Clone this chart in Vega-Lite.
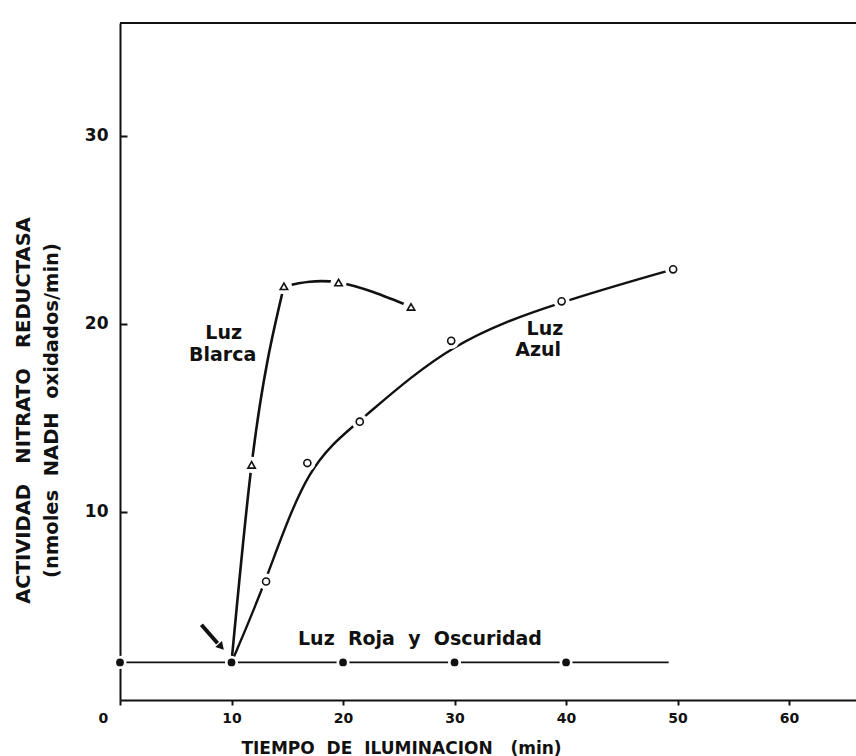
{
  "$schema": "https://vega.github.io/schema/vega-lite/v6.json",
  "width": 736,
  "height": 677,
  "autosize": "none",
  "padding": {"left": 120, "top": 23, "right": 0, "bottom": 56},
  "background": "white",
  "config": {
    "view": {"stroke": null},
    "font": "DejaVu Sans",
    "axis": {
      "domainColor": "#111", "domainWidth": 2,
      "tickColor": "#111", "tickWidth": 2,
      "labelColor": "#111", "labelFont": "DejaVu Sans", "labelFontWeight": "bold",
      "titleColor": "#111", "titleFont": "DejaVu Sans", "titleFontWeight": "bold",
      "grid": false
    }
  },
  "datasets": {
    "dark": [
      {"t": 0, "a": 2}, {"t": 10, "a": 2}, {"t": 20, "a": 2}, {"t": 30, "a": 2}, {"t": 40, "a": 2}
    ],
    "darkline": [
      {"t": 0, "a": 2, "t2": 49.2}
    ],
    "top": [
      {"a": 36}
    ],
    "blanca": [
      {"t": 10, "a": 2}, {"t": 11.8, "a": 12.5}, {"t": 14.7, "a": 22.0}, {"t": 19.6, "a": 22.2}, {"t": 26.1, "a": 20.9}
    ],
    "azul": [
      {"t": 10, "a": 2}, {"t": 13.1, "a": 6.3}, {"t": 16.8, "a": 12.6}, {"t": 21.5, "a": 14.8},
      {"t": 29.7, "a": 19.1}, {"t": 39.6, "a": 21.2}, {"t": 49.6, "a": 22.9}
    ],
    "arrow": [
      {"t": 7.3, "a": 4.0, "t2": 8.75, "a2": 3.02}
    ],
    "arrowhead": [
      {"t": 9.0, "a": 2.88}
    ],
    "labels": [
      {"t": 9.3, "a": 19.5, "txt": "Luz"},
      {"t": 9.2, "a": 18.35, "txt": "Blarca"},
      {"t": 38.1, "a": 19.75, "txt": "Luz"},
      {"t": 37.5, "a": 18.6, "txt": "Azul"},
      {"t": 26.9, "a": 3.25, "txt": "Luz\u00a0 Roja\u00a0 y\u00a0 Oscuridad"}
    ]
  },
  "encoding": {
    "x": {
      "field": "t", "type": "quantitative",
      "scale": {"domain": [0, 66], "nice": false},
      "axis": {
        "values": [0, 10, 20, 30, 40, 50, 60],
        "title": "TIEMPO\u00a0 DE\u00a0 ILUMINACION\u00a0\u00a0 (min)",
        "titleX": 281, "titleY": 53, "titleBaseline": "alphabetic", "titleAlign": "center",
        "titleFontSize": 17,
        "labelFontSize": 14, "labelPadding": 6, "tickSize": 5,
        "labelOffset": {"condition": {"test": "datum.value === 0", "value": -22}, "value": 0}
      }
    },
    "y": {
      "field": "a", "type": "quantitative",
      "scale": {"domain": [0, 36], "nice": false},
      "axis": {
        "values": [10, 20, 30],
        "title": ["ACTIVIDAD\u00a0\u00a0 NITRATO\u00a0\u00a0 REDUCTASA", "(nmoles\u00a0 NADH\u00a0 oxidados/min)"],
        "titleX": -91, "titleY": 387, "titleAngle": 270, "titleBaseline": "alphabetic", "titleAlign": "center",
        "titleLineHeight": 28.5, "titleFontSize": 19.5,
        "labelFontSize": 17, "labelPadding": 19, "tickSize": -7
      }
    }
  },
  "layer": [
    {
      "data": {"name": "blanca"},
      "transform": [{"filter": "datum.t <= 14.7"}],
      "mark": {"type": "line", "interpolate": "monotone", "strokeWidth": 2.6, "color": "#111"}
    },
    {
      "data": {"name": "blanca"},
      "transform": [{"filter": "datum.t >= 14.7"}],
      "mark": {"type": "line", "interpolate": "natural", "strokeWidth": 2.6, "color": "#111"}
    },
    {
      "data": {"name": "top"},
      "mark": {"type": "rule", "strokeWidth": 2.2, "color": "#111"},
      "encoding": {"x": null}
    },
    {
      "data": {"name": "darkline"},
      "mark": {"type": "rule", "strokeWidth": 1.6, "color": "#111"},
      "encoding": {"x2": {"field": "t2"}}
    },
    {
      "data": {"name": "azul"},
      "mark": {"type": "line", "interpolate": "basis", "strokeWidth": 2.4, "color": "#111"}
    },
    {
      "data": {"name": "arrow"},
      "mark": {"type": "rule", "strokeWidth": 4, "color": "#111"},
      "encoding": {"x2": {"field": "t2"}, "y2": {"field": "a2"}}
    },
    {
      "data": {"name": "blanca"},
      "transform": [{"filter": "datum.t > 10"}],
      "mark": {"type": "point", "shape": "circle", "filled": true, "size": 260, "color": "white", "opacity": 1}
    },
    {
      "data": {"name": "azul"},
      "transform": [{"filter": "datum.t > 10"}],
      "mark": {"type": "point", "shape": "circle", "filled": true, "size": 260, "color": "white", "opacity": 1}
    },
    {
      "data": {"name": "dark"},
      "mark": {"type": "point", "shape": "circle", "filled": true, "size": 170, "color": "white", "opacity": 1}
    },
    {
      "data": {"name": "blanca"},
      "transform": [{"filter": "datum.t > 10"}],
      "mark": {"type": "point", "shape": "triangle-up", "filled": true, "fill": "white", "stroke": "#111", "strokeWidth": 1.6, "size": 55, "opacity": 1}
    },
    {
      "data": {"name": "azul"},
      "transform": [{"filter": "datum.t > 10"}],
      "mark": {"type": "point", "shape": "circle", "filled": true, "fill": "white", "stroke": "#111", "strokeWidth": 1.6, "size": 50, "opacity": 1}
    },
    {
      "data": {"name": "arrowhead"},
      "mark": {"type": "point", "shape": "triangle", "filled": true, "color": "#111", "size": 80, "angle": 138, "opacity": 1}
    },
    {
      "data": {"name": "labels"},
      "mark": {"type": "text", "font": "DejaVu Sans", "fontWeight": "bold", "fontSize": 19, "align": "center", "baseline": "middle", "color": "#111"},
      "encoding": {"text": {"field": "txt"}}
    },
    {
      "data": {"name": "dark"},
      "mark": {"type": "point", "shape": "circle", "filled": true, "color": "#111", "size": 60, "opacity": 1}
    }
  ]
}
